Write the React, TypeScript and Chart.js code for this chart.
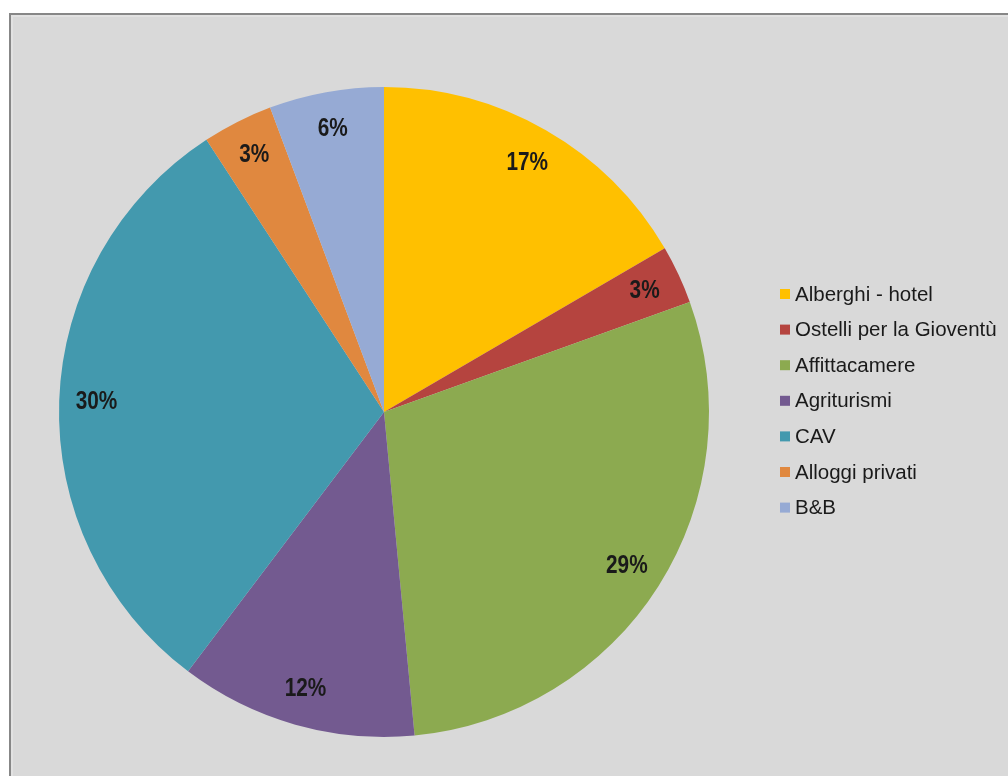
import React, { useEffect, useRef } from "react";
import { Chart, registerables } from "chart.js";

Chart.register(...registerables);

const categories = [
  "Alberghi - hotel",
  "Ostelli per la Gioventù",
  "Affittacamere",
  "Agriturismi",
  "CAV",
  "Alloggi privati",
  "B&B",
];
const values = [16.6, 2.9, 29.0, 11.8, 30.5, 3.5, 5.7];
const percentLabels = ["17%", "3%", "29%", "12%", "30%", "3%", "6%"];
const colors = ["#FFC000", "#B5443F", "#8CAA50", "#735A90", "#4399AE", "#E0883F", "#96AAD4"];

const labelPlugin = {
  id: "sliceLabels",
  afterDatasetsDraw(chart: any) {
    const ctx = chart.ctx;
    const meta = chart.getDatasetMeta(0);
    meta.data.forEach((arc: any, i: number) => {
      const { x, y, startAngle, endAngle, outerRadius } = arc.getProps(
        ["x", "y", "startAngle", "endAngle", "outerRadius"],
        true
      );
      const mid = (startAngle + endAngle) / 2;
      const r = outerRadius * 0.885;
      const lx = x + Math.cos(mid) * r;
      const ly = y + Math.sin(mid) * r;
      ctx.save();
      ctx.translate(lx, ly);
      ctx.scale(0.8, 1);
      ctx.font = "bold 26px 'Liberation Sans Narrow', 'Arial Narrow', 'Liberation Sans', Arial, sans-serif";
      ctx.fillStyle = "#1a1a1a";
      ctx.textAlign = "center";
      ctx.textBaseline = "middle";
      ctx.fillText(percentLabels[i], 0, 0);
      ctx.restore();
    });
  },
};

const legendPlugin = {
  id: "sideLegend",
  afterDraw(chart: any) {
    const ctx = chart.ctx;
    ctx.save();
    ctx.font = "20.5px 'Liberation Sans', Arial, sans-serif";
    ctx.textBaseline = "middle";
    ctx.textAlign = "left";
    const x0 = 780;
    const y0 = 294;
    const step = 35.6;
    categories.forEach((c, i) => {
      const y = y0 + i * step;
      ctx.fillStyle = colors[i];
      ctx.fillRect(x0, y - 5, 10, 10);
      ctx.fillStyle = "#1a1a1a";
      ctx.fillText(c, x0 + 15, y + 1);
    });
    ctx.restore();
  },
};

export default function App() {
  const ref = useRef<HTMLCanvasElement>(null);
  useEffect(() => {
    if (!ref.current) return;
    const chart = new Chart(ref.current, {
      type: "pie",
      data: {
        labels: categories,
        datasets: [
          {
            data: values,
            backgroundColor: colors,
            borderWidth: 0,
          },
        ],
      },
      options: {
        animation: false,
        responsive: false,
        maintainAspectRatio: false,
        layout: { padding: { left: 59, right: 299, top: 87, bottom: 39 } },
        plugins: {
          legend: { display: false },
          tooltip: { enabled: false },
        },
      },
      plugins: [labelPlugin, legendPlugin],
    });
    return () => chart.destroy();
  }, []);
  return (
    <div style={{ position: "fixed", left: 0, top: 0, width: 1008, height: 776, background: "#ffffff", overflow: "hidden" }}>
      <div
        style={{
          position: "absolute",
          left: 9,
          top: 13,
          width: 1020,
          height: 800,
          background: "#d9d9d9",
          borderLeft: "2px solid #878787",
          borderTop: "2px solid #878787",
          boxShadow: "inset 2px 2px 0 #e2e2e2",
        }}
      />
      <canvas ref={ref} width={1008} height={776} style={{ position: "absolute", left: 0, top: 0, width: 1008, height: 776 }} />
    </div>
  );
}
